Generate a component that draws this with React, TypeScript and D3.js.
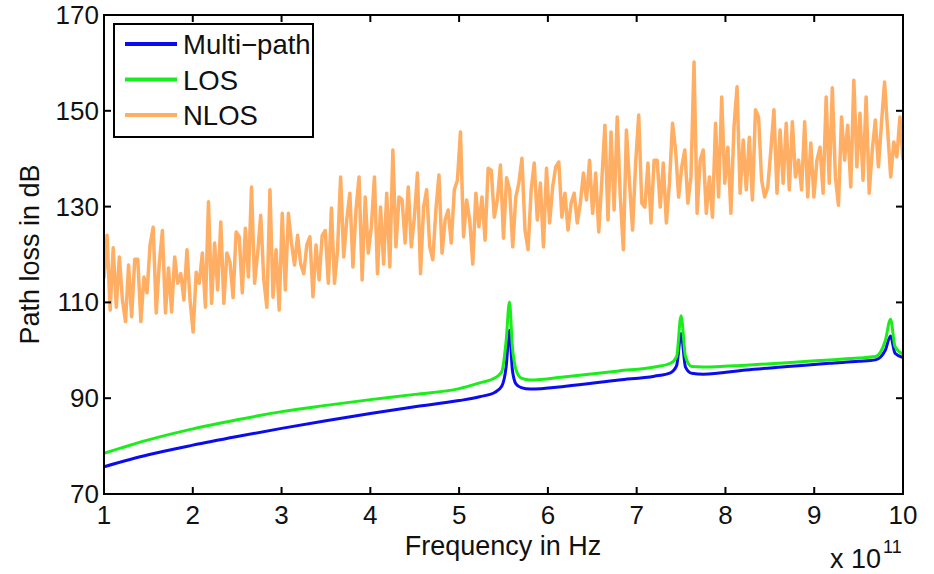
import * as React from "react";
import * as d3 from "d3";

// frequency ticks (x 10^11 Hz) and path loss ticks (dB)
const xTicks = [1, 2, 3, 4, 5, 6, 7, 8, 9, 10];
const yTicks = [70, 90, 110, 130, 150, 170];

// Multi-path: [frequency x1e11, dB]
const multiPath: [number, number][] = [
  [1, 75.7], [1.5, 78.2], [2, 80.2], [2.5, 82], [3, 83.7], [3.5, 85.3], [4, 86.8],
  [4.5, 88.2], [5, 89.5], [5.23, 90.3], [5.4, 91.2], [5.48, 92.5], [5.53, 96.6],
  [5.567, 104.2], [5.6, 95.9], [5.64, 93], [5.7, 92.2], [5.8, 91.9], [6.2, 92.5],
  [6.8, 93.8], [7.2, 94.6], [7.38, 95.3], [7.45, 96.8], [7.5, 103.5], [7.55, 96.5],
  [7.62, 95.2], [7.75, 95], [8.23, 95.9], [8.7, 96.6], [9.17, 97.3], [9.5, 97.7],
  [9.69, 98], [9.8, 100], [9.86, 103], [9.91, 99.4], [10, 98.5],
];

// LOS: [frequency x1e11, dB]
const los: [number, number][] = [
  [1, 78.5], [1.5, 81.3], [2, 83.6], [2.5, 85.5], [3, 87.2], [3.5, 88.5], [4, 89.7],
  [4.5, 90.8], [5, 92], [5.23, 93.2], [5.4, 94.2], [5.48, 95.5], [5.53, 102],
  [5.567, 110.1], [5.6, 100.8], [5.64, 96], [5.7, 94.2], [5.8, 93.8], [6.2, 94.5],
  [6.8, 95.7], [7.2, 96.5], [7.38, 97.3], [7.45, 98.7], [7.5, 107.2], [7.55, 98.7],
  [7.62, 96.6], [7.75, 96.5], [8.23, 96.9], [8.7, 97.4], [9.17, 98], [9.5, 98.4],
  [9.69, 98.7], [9.8, 102], [9.86, 106.5], [9.91, 100.8], [10, 99.2],
];

// NLOS: dB values, evenly spaced from 1 to 10 x1e11 Hz
const nlos: number[] = [
  115, 124, 108.4, 121.4, 109, 119.5, 110.5, 106, 117.8, 107, 119, 119, 106, 115.3, 112,
  122, 125.7, 107.8, 118.2, 125, 107.8, 117.2, 108, 119.5, 114, 116, 110.5, 121, 110.5,
  103.8, 116.3, 114, 120.3, 109, 131, 109.8, 122.4, 112.6, 126.8, 109.8, 120.3, 118.4,
  111, 124.7, 123.7, 112, 125.5, 115.3, 134.1, 114, 120.3, 128.2, 114.7, 109, 133.5,
  111.1, 121, 108.4, 128.6, 112.6, 128.6, 122.4, 117.8,
  124, 118, 116, 122, 123.7, 111.2, 122, 114.7, 124, 125, 114, 129.7, 114, 121, 136.2,
  119.5, 127.2, 132.8, 117.4, 129.3, 136.2, 114.7, 132, 120.3, 125.8, 136.2, 116, 129.9,
  118, 132.8, 117.4, 141.8, 121.6, 132, 131.4, 122.4, 134.1, 121.6, 127.8, 137, 116,
  129.9, 133.5, 121.6, 118.9, 129.3, 136.6, 120.3, 127.2, 129.3, 122.4, 133.5, 135.5,
  145.6, 123.7, 131.4, 127.2, 118, 132.8, 125.8, 132, 123, 138,
  137.6, 127.8, 131.4, 138.7, 123.4, 136, 133.5, 121.6, 132, 134.9, 140.1, 125.1, 121,
  133.5, 139.1, 127.2, 134.9, 121.6, 138, 126.6, 134.1, 138.3, 139.3, 127.8, 132.8,
  125.1, 130.7, 132.8, 126.6, 130.7, 137, 131.4, 139.7, 128.6, 137, 124.7, 135.5, 147,
  127.2, 145.6, 129.3, 148.7, 132, 121, 146, 134.9, 125.1, 139.1, 149.1, 130.7, 129.9,
  139.1, 126.6, 139.7, 139.7, 129.9, 139.1, 126.6, 134.9, 147.4, 141.8, 132, 138.3,
  141.8, 130.7, 136.2, 160.2, 128.6, 139.7,
  141.8, 128.6, 136.2, 127.8, 147.4, 132, 152.9, 134.9, 142.4, 128.6, 146.6, 155, 132.8,
  143.9, 133.5, 144.5, 131.4, 150.2, 148.7, 135.5, 132, 134.1, 141.8, 150.2, 132.8, 146,
  134.9, 147.4, 133.5, 147.7, 136.2, 139.7, 133.5, 147.7, 132, 143.3, 132, 139.7, 142.4,
  132.8, 152.9, 134.9, 154.8, 136.2, 130.3, 148.7, 139.7, 147, 134.1, 156.4, 138.3,
  149.5, 135.5, 152.9, 132.8, 141.8, 148.1, 138.3, 147.4, 156, 146, 136.2, 143.5, 140.4,
  148.7, 139.7,
];

const legendItems = [
  { name: "Multi\u2212path", color: "#0b0bf0" },
  { name: "LOS", color: "#1aee1a" },
  { name: "NLOS", color: "#ffae63" },
];

const W = 934;
const H = 574;
const margin = { top: 15, right: 31, bottom: 80, left: 104 };
const font = "'Liberation Sans', Arial, sans-serif";

export default function App() {
  const x = d3.scaleLinear().domain([1, 10]).range([margin.left, W - margin.right]);
  const y = d3.scaleLinear().domain([70, 170]).range([H - margin.bottom, margin.top]);

  const line = d3.line<[number, number]>()
    .x(d => x(d[0]))
    .y(d => y(d[1]))
    .curve(d3.curveMonotoneX);

  const rawLine = d3.line<[number, number]>()
    .x(d => x(d[0]))
    .y(d => y(d[1]));

  const nlosPts: [number, number][] = nlos.map((v, i) => [1 + (9 * i) / (nlos.length - 1), v]);

  const [x0, x1] = x.range();
  const [yb, yt] = y.range();
  const tick = 7;

  return (
    <svg width={W} height={H} style={{ position: "absolute", left: 0, top: 0, background: "#fff" }}
      fontFamily={font}>
      <defs>
        <clipPath id="plot">
          <rect x={x0} y={yt} width={x1 - x0} height={yb - yt} />
        </clipPath>
      </defs>

      <g clipPath="url(#plot)" fill="none" strokeLinejoin="round">
        <path d={rawLine(nlosPts) || ""} stroke={legendItems[2].color} strokeWidth={3.5} />
        <path d={line(multiPath) || ""} stroke={legendItems[0].color} strokeWidth={3} />
        <path d={line(los) || ""} stroke={legendItems[1].color} strokeWidth={3} />
      </g>

      {/* axes box and inward ticks */}
      <g stroke="#000" strokeWidth={2} fill="none">
        <rect x={x0} y={yt} width={x1 - x0} height={yb - yt} />
        {xTicks.map(t => (
          <g key={"x" + t}>
            <line x1={x(t)} x2={x(t)} y1={yb} y2={yb - tick} />
            <line x1={x(t)} x2={x(t)} y1={yt} y2={yt + tick} />
          </g>
        ))}
        {yTicks.map(t => (
          <g key={"y" + t}>
            <line x1={x0} x2={x0 + tick} y1={y(t)} y2={y(t)} />
            <line x1={x1} x2={x1 - tick} y1={y(t)} y2={y(t)} />
          </g>
        ))}
      </g>

      <g fontSize={26} fill="#111">
        {xTicks.map(t => (
          <text key={"xl" + t} x={x(t)} y={yb + 30} textAnchor="middle">{t}</text>
        ))}
        {yTicks.map(t => (
          <text key={"yl" + t} x={x0 - 5} y={y(t) + 9} textAnchor="end">{t}</text>
        ))}
      </g>

      <text x={503} y={555} fontSize={27} textAnchor="middle" fill="#111">Frequency in Hz</text>
      <text x={830} y={568} fontSize={27} fill="#111">x 10</text>
      <text x={883} y={553} fontSize={18} fill="#111">11</text>
      <text transform={`translate(39,${(yt + yb) / 2}) rotate(-90)`} fontSize={27} textAnchor="middle" fill="#111">
        Path loss in dB
      </text>

      {/* legend */}
      <g>
        <rect x={114} y={24} width={199} height={113} fill="#fff" stroke="#000" strokeWidth={2} />
        {legendItems.map((d, i) => (
          <g key={d.name} transform={`translate(0,${44 + i * 35.5})`}>
            <line x1={125} x2={177} y1={0} y2={0} stroke={d.color} strokeWidth={4} />
            <text x={183} y={10} fontSize={27.5} fill="#111">{d.name}</text>
          </g>
        ))}
      </g>
    </svg>
  );
}
